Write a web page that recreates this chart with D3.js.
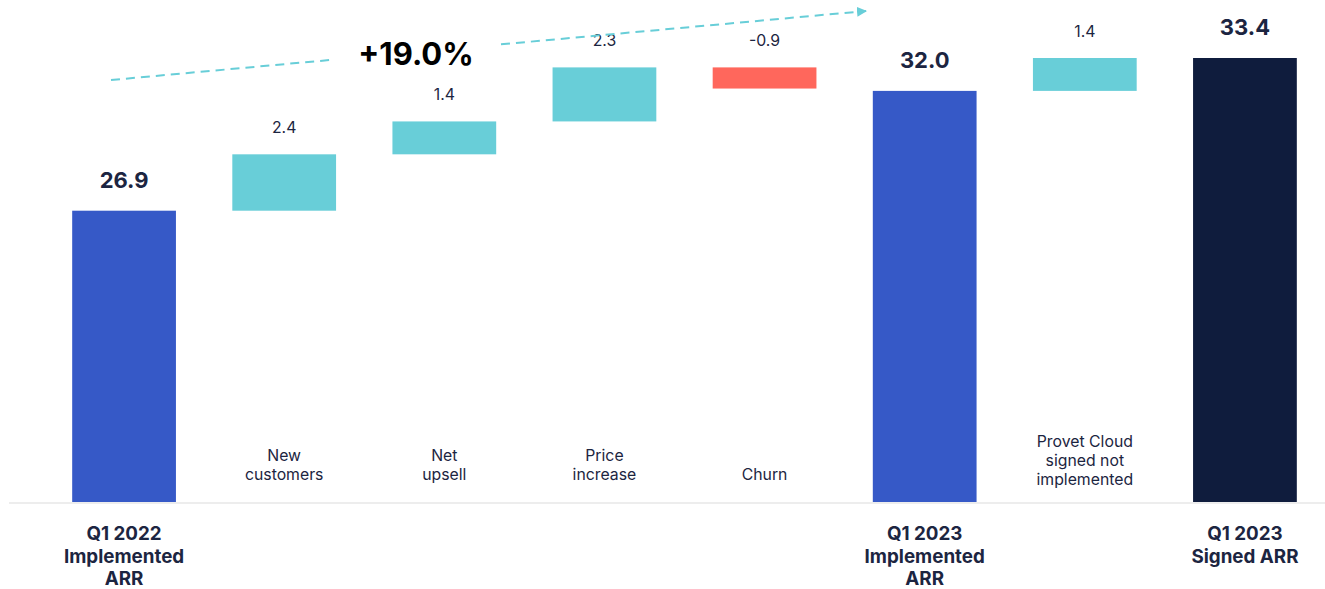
<!DOCTYPE html>
<html>
<head>
<meta charset="utf-8">
<script src="https://cdn.jsdelivr.net/npm/d3@7"></script>
<style>
  html, body { margin: 0; padding: 0; background: #ffffff; }
  svg { display: block; font-family: Inter, "Noto Sans", sans-serif; }
</style>
</head>
<body>
<svg id="chart" width="1325" height="589"></svg>
<script>
// ARR bridge, EUR m
const categories = ["q122", "new", "upsell", "price", "churn", "q123impl", "provet", "q123signed"];
const kinds = ["total", "delta", "delta", "delta", "delta", "total", "delta", "total"];
const values = [26.9, 2.4, 1.4, 2.3, -0.9, 32.0, 1.4, 33.4];
const valueLabels = ["26.9", "2.4", "1.4", "2.3", "-0.9", "32.0", "1.4", "33.4"];
const labelLines = [
  ["Q1 2022", "Implemented", "ARR"],
  ["New", "customers"],
  ["Net", "upsell"],
  ["Price", "increase"],
  ["Churn"],
  ["Q1 2023", "Implemented", "ARR"],
  ["Provet Cloud", "signed not", "implemented"],
  ["Q1 2023", "Signed ARR"]
];
const growthLabel = "+19.0%";

const COLORS = {
  total: "#3659C7",
  final: "#0F1C3D",
  up: "#68CED8",
  down: "#FF675C",
  text: "#1C2541",
  axis: "#EDEDED"
};

const svg = d3.select("#chart");
const W = 1325, H = 589;
const baseY = 502;

// waterfall steps: each bar spans [start, end] in value space
let running = 0;
const bars = categories.map((c, i) => {
  let start, end;
  if (kinds[i] === "total") {
    start = null; end = values[i]; running = values[i];
  } else {
    start = running; end = running + values[i]; running = end;
  }
  return { key: c, i, kind: kinds[i], start, end, value: values[i] };
});

const x = d3.scaleBand()
  .domain(categories)
  .range([44, 1325])
  .paddingInner(0.352)
  .paddingOuter(0.176);

// value axis starts above zero so the step changes stay readable
const y = d3.scaleLinear()
  .domain([14.5, 33.4])
  .range([baseY, 58]);

// baseline
svg.append("line")
  .attr("x1", 9).attr("x2", W)
  .attr("y1", baseY + 1).attr("y2", baseY + 1)
  .attr("stroke", COLORS.axis).attr("stroke-width", 2);

function barColor(d) {
  if (d.kind === "total") return d.i === categories.length - 1 ? COLORS.final : COLORS.total;
  return d.value >= 0 ? COLORS.up : COLORS.down;
}

function barTop(d) {
  return d.kind === "total" ? y(d.end) : y(Math.max(d.start, d.end));
}
function barBottom(d) {
  return d.kind === "total" ? baseY : y(Math.min(d.start, d.end));
}

svg.append("g").selectAll("rect")
  .data(bars)
  .join("rect")
  .attr("x", d => x(d.key))
  .attr("width", x.bandwidth())
  .attr("y", d => barTop(d))
  .attr("height", d => barBottom(d) - barTop(d))
  .attr("fill", barColor);

// value labels above bars
svg.append("g").selectAll("text")
  .data(bars)
  .join("text")
  .attr("x", d => x(d.key) + x.bandwidth() / 2)
  .attr("y", d => barTop(d) - (d.kind === "total" ? 23 : 21))
  .attr("text-anchor", "middle")
  .attr("fill", COLORS.text)
  .attr("font-size", d => d.kind === "total" ? 22 : 15.8)
  .attr("font-weight", d => d.kind === "total" ? 700 : 400)
  .text((d, i) => valueLabels[i]);

// category labels: step names inside the chart, totals below the baseline
bars.forEach(d => {
  const lines = labelLines[d.i];
  const cx = x(d.key) + x.bandwidth() / 2;
  if (d.kind === "total") {
    const t = svg.append("text")
      .attr("text-anchor", "middle")
      .attr("fill", COLORS.text)
      .attr("font-size", 18.8)
      .attr("font-weight", 700);
    lines.forEach((ln, k) => {
      t.append("tspan").attr("x", cx).attr("y", 540 + k * 22.5).text(ln);
    });
  } else {
    const t = svg.append("text")
      .attr("text-anchor", "middle")
      .attr("fill", COLORS.text)
      .attr("font-size", 15.8)
      .attr("font-weight", 400);
    const n = lines.length;
    const bottom = n === 3 ? 485 : 480;
    lines.forEach((ln, k) => {
      t.append("tspan").attr("x", cx).attr("y", bottom - (n - 1 - k) * 19).text(ln);
    });
  }
});

// growth arrow across the top
const defs = svg.append("defs");
defs.append("marker")
  .attr("id", "arrowHead")
  .attr("viewBox", "0 0 10 10")
  .attr("refX", 9).attr("refY", 5)
  .attr("markerWidth", 5).attr("markerHeight", 5)
  .attr("orient", "auto")
  .append("path")
  .attr("d", "M0,0 L10,5 L0,10 Z")
  .attr("fill", COLORS.up);

const arrowStart = [111, 80], arrowEnd = [866, 11];
const lerp = t => [arrowStart[0] + (arrowEnd[0] - arrowStart[0]) * t,
                   arrowStart[1] + (arrowEnd[1] - arrowStart[1]) * t];
const tGapA = (330 - arrowStart[0]) / (arrowEnd[0] - arrowStart[0]);
const tGapB = (501 - arrowStart[0]) / (arrowEnd[0] - arrowStart[0]);
const seg1 = [arrowStart, lerp(tGapA)];
const seg2 = [lerp(tGapB), arrowEnd];

[seg1, seg2].forEach((s, k) => {
  svg.append("line")
    .attr("x1", s[0][0]).attr("y1", s[0][1])
    .attr("x2", s[1][0]).attr("y2", s[1][1])
    .attr("stroke", COLORS.up)
    .attr("stroke-width", 2)
    .attr("stroke-dasharray", "9,6")
    .attr("marker-end", k === 1 ? "url(#arrowHead)" : null);
});

svg.append("text")
  .attr("x", 416).attr("y", 65)
  .attr("text-anchor", "middle")
  .attr("fill", "#000000")
  .attr("font-size", 31)
  .attr("font-weight", 700)
  .text(growthLabel);
</script>
</body>
</html>
